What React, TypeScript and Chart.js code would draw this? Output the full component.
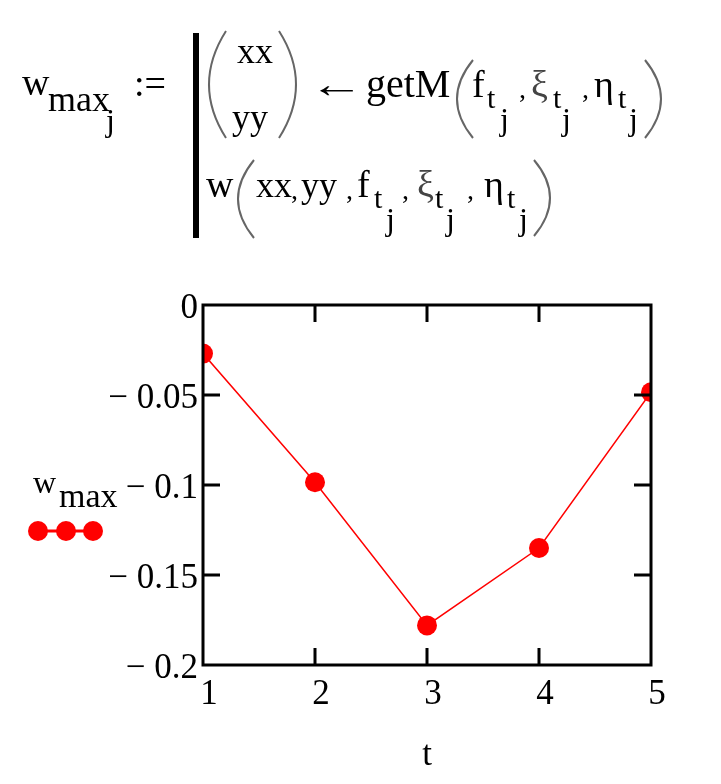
import React, { useEffect, useRef } from "react";
import { Chart, registerables } from "chart.js";

Chart.register(...registerables);

// ---- data ----
const tValues = [1, 2, 3, 4, 5];
const wMaxValues = [-0.027, -0.0985, -0.178, -0.135, -0.0485];
const xTickLabels = ["1", "2", "3", "4", "5"];
const yMin = -0.2;
const yMax = 0;
const yStep = 0.05;
const xTitle = "t";
const seriesName = "wmax";

const FONT = "'Liberation Serif', 'Times New Roman', serif";
const RED = "#ff0000";

const fmtY = (v: number) => {
  const a = Math.round(Math.abs(v) * 1000) / 1000;
  if (a === 0) return "0";
  return (v < 0 ? "\u2212 " : "") + String(a);
};

const framePlugin = {
  id: "mathcadFrame",
  afterDraw(chart: any) {
    const { ctx, chartArea: a, scales } = chart;
    const xs = scales.x;
    const ys = scales.y;
    const L = 17;
    ctx.save();
    ctx.strokeStyle = "#000";
    ctx.lineWidth = 3;
    ctx.beginPath();
    ys.ticks.forEach((t: any) => {
      const v = t.value;
      if (Math.abs(v - ys.min) < 1e-9 || Math.abs(v - ys.max) < 1e-9) return;
      const p = ys.getPixelForValue(v);
      ctx.moveTo(a.left, p);
      ctx.lineTo(a.left + L, p);
      ctx.moveTo(a.right, p);
      ctx.lineTo(a.right - L, p);
    });
    xs.ticks.forEach((t: any) => {
      const v = t.value;
      if (Math.abs(v - xs.min) < 1e-9 || Math.abs(v - xs.max) < 1e-9) return;
      const p = xs.getPixelForValue(v);
      ctx.moveTo(p, a.top);
      ctx.lineTo(p, a.top + L);
      ctx.moveTo(p, a.bottom);
      ctx.lineTo(p, a.bottom - L);
    });
    ctx.stroke();
    ctx.strokeRect(a.left, a.top, a.right - a.left, a.bottom - a.top);
    ctx.restore();
  },
};

type Piece = [string, number, number, number, string?];

const formula: Piece[] = [
  ["w", 22, 95, 38],
  ["max", 48, 111, 36],
  ["j", 106, 131, 32],
  [":=", 134, 96, 38],
  ["xx", 237, 63, 36],
  ["yy", 232, 129, 36],
  ["getM", 366, 97, 40],
  ["f", 472, 97, 38],
  ["t", 487, 108, 30],
  ["j", 500, 130, 32],
  [",", 519, 98, 28],
  ["\u03BE", 531, 97, 38, "#444"],
  ["t", 553, 108, 30],
  ["j", 562, 130, 32],
  [",", 582, 98, 28],
  ["\u03B7", 594, 97, 38],
  ["t", 618, 108, 30],
  ["j", 629, 130, 32],
  ["w", 206, 197, 38],
  ["xx", 256, 197, 36],
  [",", 291, 199, 28],
  ["yy", 301, 197, 36],
  [",", 346, 199, 28],
  ["f", 357, 197, 38],
  ["t", 374, 208, 30],
  ["j", 386, 230, 32],
  [",", 402, 199, 28],
  ["\u03BE", 417, 197, 38, "#444"],
  ["t", 435, 208, 30],
  ["j", 446, 230, 32],
  [",", 467, 199, 28],
  ["\u03B7", 484, 197, 38],
  ["t", 507, 208, 30],
  ["j", 519, 230, 32],
];

// parens: [xOuter, xInner(edge), top, bottom]
const parens: [number, number, number, number][] = [
  [226, 209, 31, 138],
  [279, 296, 31, 138],
  [473, 457, 60, 138],
  [645, 661, 60, 138],
  [254, 238, 160, 238],
  [534, 550, 160, 236],
];

function parenPath(xs: number, xe: number, top: number, bottom: number) {
  const cx = 2 * xe - xs;
  const my = (top + bottom) / 2;
  return `M ${xs} ${top} Q ${cx} ${my} ${xs} ${bottom}`;
}

export default function App() {
  const canvasRef = useRef<HTMLCanvasElement | null>(null);

  useEffect(() => {
    if (!canvasRef.current) return;
    const chart = new Chart(canvasRef.current, {
      type: "line",
      data: {
        datasets: [
          {
            label: seriesName,
            data: tValues.map((t, i) => ({ x: t, y: wMaxValues[i] })),
            borderColor: RED,
            backgroundColor: RED,
            borderWidth: 1.5,
            pointRadius: 10,
            pointBackgroundColor: RED,
            pointBorderWidth: 0,
            pointHoverRadius: 10,
            tension: 0,
            clip: 0,
          } as any,
        ],
      },
      options: {
        responsive: false,
        animation: false,
        devicePixelRatio: 1,
        events: [],
        layout: { padding: { left: 0, right: 70, top: 305, bottom: 0 } },
        plugins: { legend: { display: false }, tooltip: { enabled: false } },
        scales: {
          x: {
            type: "linear",
            min: tValues[0],
            max: tValues[tValues.length - 1],
            grid: { display: false, drawTicks: false },
            border: { display: false },
            ticks: {
              stepSize: 1,
              color: "#000",
              padding: 9,
              labelOffset: 6,
              maxRotation: 0,
              autoSkip: false,
              font: { family: FONT, size: 35 },
              callback: (v: any) => xTickLabels[tValues.indexOf(Number(v))] ?? String(v),
            },
            title: {
              display: true,
              text: xTitle,
              color: "#000",
              font: { family: FONT, size: 35 },
              padding: { top: 0, bottom: 7 },
            },
            afterFit: (s: any) => {
              s.height = 119;
            },
          },
          y: {
            type: "linear",
            min: yMin,
            max: yMax,
            grid: { display: false, drawTicks: false },
            border: { display: false },
            ticks: {
              stepSize: yStep,
              color: "#000",
              padding: 5,
              labelOffset: 4,
              font: { family: FONT, size: 35 },
              callback: (v: any) => fmtY(Number(v)),
            },
            afterFit: (s: any) => {
              s.width = 203;
            },
          },
        },
      } as any,
      plugins: [framePlugin],
    });
    return () => chart.destroy();
  }, []);

  return (
    <div style={{ position: "absolute", left: 0, top: 0, width: 721, height: 784, background: "#fff" }}>
      <canvas
        ref={canvasRef}
        width={721}
        height={784}
        style={{ position: "absolute", left: 0, top: 0, display: "block" }}
      />
      <svg
        width={721}
        height={784}
        style={{ position: "absolute", left: 0, top: 0, pointerEvents: "none" }}
      >
        <g style={{ fontFamily: FONT }}>
          {formula.map(([s, x, y, size, color], i) => (
            <text key={i} x={x} y={y} fontSize={size} fill={color || "#000"}>
              {s}
            </text>
          ))}
          <text
            x={0}
            y={0}
            fontSize={38}
            fill="#000"
            transform="translate(309 97) scale(1.45 1)"
          >
            {"\u2190"}
          </text>
          <rect x={193} y={33} width={6} height={205} fill="#000" />
          {parens.map(([xs, xe, t, b], i) => (
            <path key={i} d={parenPath(xs, xe, t, b)} stroke="#666" strokeWidth={2} fill="none" />
          ))}
          {/* y-axis name / legend */}
          <text x={33} y={493} fontSize={32} fill="#000">w</text>
          <text x={59} y={507} fontSize={34} fill="#000">max</text>
          <line x1={38} y1={531} x2={93} y2={531} stroke={RED} strokeWidth={3} />
          <circle cx={38} cy={531} r={10} fill={RED} />
          <circle cx={66} cy={531} r={10} fill={RED} />
          <circle cx={93} cy={531} r={10} fill={RED} />
        </g>
      </svg>
    </div>
  );
}
